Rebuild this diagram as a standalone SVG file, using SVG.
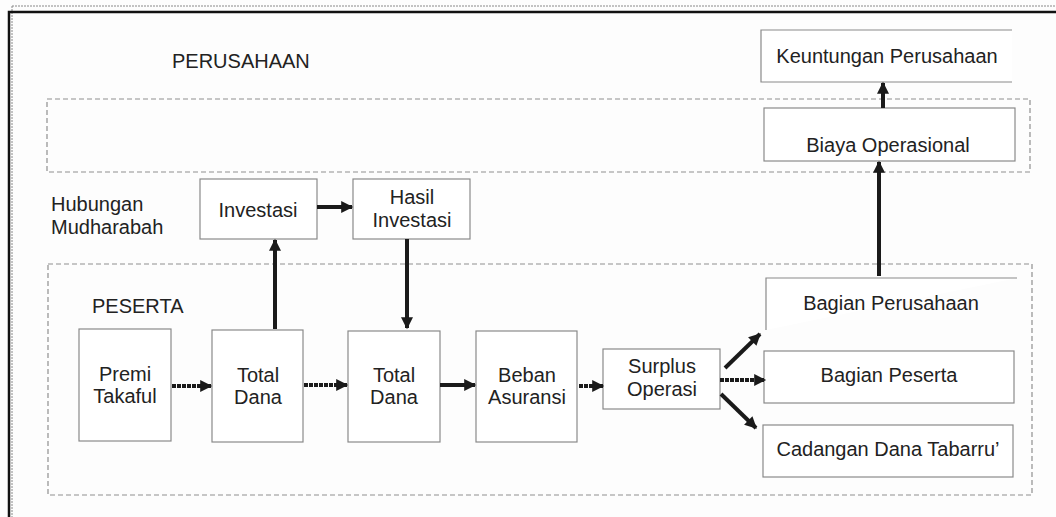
<svg xmlns="http://www.w3.org/2000/svg" width="1056" height="517" viewBox="0 0 1056 517">
<style>
text{font-family:"Liberation Sans",Arial,sans-serif;font-size:20px;fill:#222}
.c{text-anchor:middle}
.box{fill:#fff;stroke:#8a8a8a;stroke-width:1.2}
.zone{fill:none;stroke:#8f8f8f;stroke-width:1.2;stroke-dasharray:5 3}
.a{stroke:#1a1a1a;stroke-width:4;fill:none}
.h{stroke:#1a1a1a;stroke-width:4;fill:none;stroke-dasharray:4 1}
</style>
<defs>
<marker id="ah" viewBox="0 0 10 10" refX="9" refY="5" markerWidth="3.4" markerHeight="3" orient="auto" markerUnits="strokeWidth">
<path d="M0,0 L10,5 L0,10 Z" fill="#1a1a1a"/>
</marker>
</defs>
<rect x="0" y="0" width="1056" height="517" fill="#fdfdfd"/>
<g id="frame">
<path d="M12,6 H1056 M12,6 V517" fill="none" stroke="#888" stroke-width="1" stroke-dasharray="2 1"/>
<path d="M9,517 V12 H1056" fill="none" stroke="#111" stroke-width="2.5"/>
</g>
<g id="zones">
<rect class="zone" x="47" y="99" width="983" height="73"/>
<rect class="zone" x="48" y="264" width="984" height="231"/>
<text x="172" y="68">PERUSAHAAN</text>
<text x="51" y="211">Hubungan</text>
<text x="51" y="234">Mudharabah</text>
<text x="92" y="313">PESERTA</text>
</g>
<g id="keuntungan">
<path d="M1012,30 H761 V82 H1012" fill="#fff" stroke="#8a8a8a" stroke-width="1.2"/>
<text class="c" x="887" y="63">Keuntungan Perusahaan</text>
</g>
<g id="biaya">
<rect class="box" x="764" y="108" width="251" height="53"/>
<text class="c" x="888" y="152">Biaya Operasional</text>
</g>
<g id="investasi">
<rect class="box" x="200" y="179" width="117" height="60"/>
<text class="c" x="258" y="217">Investasi</text>
</g>
<g id="hasil">
<rect class="box" x="353" y="179" width="117" height="60"/>
<text class="c" x="412" y="204">Hasil</text>
<text class="c" x="412" y="227">Investasi</text>
</g>
<g id="bagian-perusahaan">
<path d="M1017,278 H766 V330" fill="#fff" stroke="#8a8a8a" stroke-width="1.2"/>
<text class="c" x="891" y="310">Bagian Perusahaan</text>
</g>
<g id="premi">
<rect class="box" x="79" y="329" width="92" height="112"/>
<text class="c" x="125" y="381">Premi</text>
<text class="c" x="125" y="403">Takaful</text>
</g>
<g id="total1">
<rect class="box" x="212" y="330" width="91" height="112"/>
<text class="c" x="258" y="382">Total</text>
<text class="c" x="258" y="404">Dana</text>
</g>
<g id="total2">
<rect class="box" x="348" y="331" width="92" height="111"/>
<text class="c" x="394" y="382">Total</text>
<text class="c" x="394" y="404">Dana</text>
</g>
<g id="beban">
<rect class="box" x="476" y="331" width="101" height="111"/>
<text class="c" x="527" y="382">Beban</text>
<text class="c" x="527" y="404">Asuransi</text>
</g>
<g id="surplus">
<rect class="box" x="603" y="349" width="117" height="60"/>
<text class="c" x="662" y="373">Surplus</text>
<text class="c" x="662" y="396">Operasi</text>
</g>
<g id="bagian-peserta">
<rect class="box" x="764" y="351" width="250" height="52"/>
<text class="c" x="889" y="382">Bagian Peserta</text>
</g>
<g id="cadangan">
<rect class="box" x="763" y="425" width="250" height="52"/>
<text class="c" x="888" y="456">Cadangan Dana Tabarru’</text>
</g>
<g id="connectors">
<line class="h" x1="172" y1="386" x2="211" y2="386" marker-end="url(#ah)"/>
<line class="h" x1="304" y1="385" x2="347" y2="385" marker-end="url(#ah)"/>
<line class="a" x1="275" y1="329" x2="275" y2="240" marker-end="url(#ah)"/>
<line class="a" x1="317" y1="207" x2="352" y2="207" marker-end="url(#ah)"/>
<line class="a" x1="407" y1="239" x2="407" y2="328" marker-end="url(#ah)"/>
<line class="a" x1="440" y1="385" x2="475" y2="385" marker-end="url(#ah)"/>
<line class="h" x1="579" y1="386" x2="603" y2="386" marker-end="url(#ah)"/>
<line class="a" x1="725" y1="368" x2="760" y2="334" marker-end="url(#ah)"/>
<line class="h" x1="720" y1="380" x2="765" y2="380" marker-end="url(#ah)"/>
<line class="a" x1="721" y1="394" x2="756" y2="428" marker-end="url(#ah)"/>
<line class="a" x1="879" y1="276" x2="879" y2="162" marker-end="url(#ah)"/>
<line class="a" x1="883" y1="108" x2="883" y2="83" marker-end="url(#ah)"/>
</g>
</svg>
